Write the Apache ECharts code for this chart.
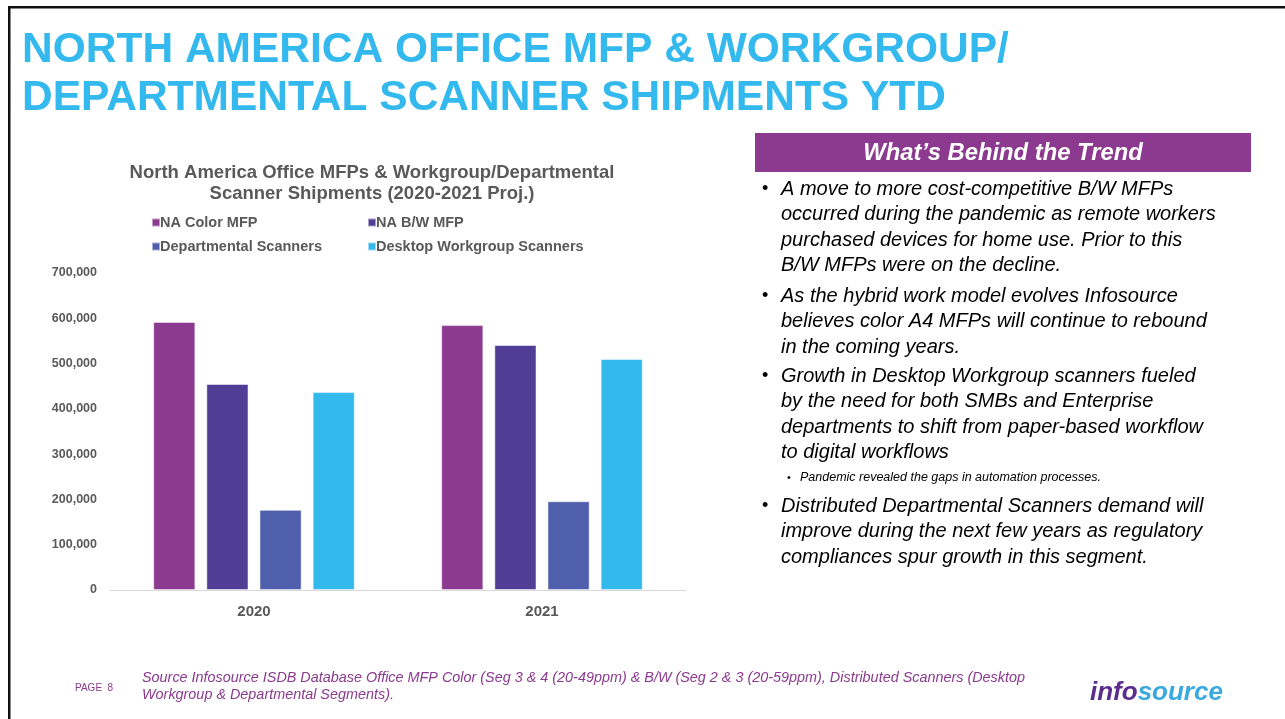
<!DOCTYPE html>
<html>
<head>
<meta charset="utf-8">
<script src="https://cdn.jsdelivr.net/npm/echarts@6/dist/echarts.min.js"></script>
<style>
  html, body { margin: 0; padding: 0; background: #fff; }
  #chart { width: 1285px; height: 719px; }
</style>
</head>
<body>
<div id="chart"></div>
<script>
// data
const years = ['2020', '2021'];
const seriesNames = ['NA Color MFP', 'NA B/W MFP', 'Departmental Scanners', 'Desktop Workgroup Scanners'];
const colorMfp = [592000, 585000];
const bwMfp = [455000, 541000];
const deptScanners = [177000, 196000];
const desktopScanners = [437000, 510000];
const seriesColors = ['#8B3A8F', '#503E96', '#4F5FAB', '#33B9EE'];

const slideTitle = 'NORTH AMERICA OFFICE MFP & WORKGROUP/\nDEPARTMENTAL SCANNER SHIPMENTS YTD';
const chartTitle = 'North America Office MFPs & Workgroup/Departmental\nScanner Shipments (2020-2021 Proj.)';
const panelHeader = 'What\u2019s Behind the Trend';
const bulletLines = [
  ['A move to more cost-competitive B/W MFPs', 'occurred during the pandemic as remote workers', 'purchased devices for home use. Prior to this', 'B/W MFPs were on the decline.'],
  ['As the hybrid work model evolves Infosource', 'believes color A4 MFPs will continue to rebound', 'in the coming years.'],
  ['Growth in Desktop Workgroup scanners fueled', 'by the need for both SMBs and Enterprise', 'departments to shift from paper-based workflow', 'to digital workflows'],
  ['Distributed Departmental Scanners demand will', 'improve during the next few years as regulatory', 'compliances spur growth in this segment.']
];
const subBullet = 'Pandemic revealed the gaps in automation processes.';
const sourceNote = 'Source Infosource ISDB Database Office MFP Color (Seg 3 & 4 (20-49ppm) & B/W (Seg 2 & 3 (20-59ppm), Distributed Scanners (Desktop\nWorkgroup & Departmental Segments).';

const FONT = '"Liberation Sans", Arial, sans-serif';
const GREY = '#595959';

const chart = echarts.init(document.getElementById('chart'));

// slide frame + right-hand text panel
const graphics = [
  { type: 'rect', shape: { x: 9, y: 6, width: 1276, height: 2.5 }, style: { fill: '#111' } },
  { type: 'rect', shape: { x: 8, y: 6, width: 2.5, height: 713 }, style: { fill: '#111' } },
  { type: 'rect', shape: { x: 755, y: 133, width: 496, height: 39 }, style: { fill: '#8B3A8F' } },
  { type: 'text', x: 1003, y: 153, style: { text: panelHeader, fill: '#fff', font: 'italic bold 23.8px ' + FONT, textAlign: 'center', textVerticalAlign: 'middle' } }
];

const lineStarts = [189, 296, 376, 506];
const lineH = 25.5;
bulletLines.forEach((lines, i) => {
  graphics.push({ type: 'text', x: 762, y: lineStarts[i], style: { text: '\u2022', fill: '#000', font: '18px ' + FONT, textVerticalAlign: 'middle' } });
  lines.forEach((ln, j) => {
    graphics.push({ type: 'text', x: 781, y: lineStarts[i] + j * lineH, style: { text: ln, fill: '#000', font: 'italic 20px ' + FONT, textVerticalAlign: 'middle' } });
  });
});
graphics.push({ type: 'text', x: 787, y: 478, style: { text: '\u2022', fill: '#000', font: '11px ' + FONT, textVerticalAlign: 'middle' } });
graphics.push({ type: 'text', x: 800, y: 478, style: { text: subBullet, fill: '#000', font: 'italic 12.5px ' + FONT, textVerticalAlign: 'middle' } });

// footer
graphics.push({ type: 'text', x: 75, y: 688, style: { text: 'PAGE  8', fill: '#8B3A8F', font: '10px ' + FONT, textVerticalAlign: 'middle' } });
graphics.push({ type: 'text', x: 142, y: 669, style: { text: sourceNote, fill: '#8B3A8F', font: 'italic 14.4px ' + FONT, lineHeight: 17 } });
graphics.push({ type: 'text', x: 1090, y: 693, style: {
  text: '{a|info}{b|source}', textVerticalAlign: 'middle',
  rich: {
    a: { fill: '#5A2D8E', font: 'italic bold 26px ' + FONT },
    b: { fill: '#3AA9E0', font: 'italic bold 26px ' + FONT }
  }
} });

const seriesData = [colorMfp, bwMfp, deptScanners, desktopScanners];

chart.setOption({
  animation: false,
  textStyle: { fontFamily: FONT },
  title: [
    { text: slideTitle, left: 22, top: 26, padding: 0, textStyle: { color: '#33B9EE', fontSize: 42.5, fontWeight: 'bold', lineHeight: 48, fontFamily: FONT } },
    { text: chartTitle, left: 372, textAlign: 'center', top: 162, padding: 0, textStyle: { color: GREY, fontSize: 18.5, fontWeight: 'bold', lineHeight: 21.5, fontFamily: FONT } }
  ],
  legend: [
    { data: [seriesNames[0], seriesNames[2]], left: 146, top: 210, orient: 'vertical', itemGap: 9, itemWidth: 8, itemHeight: 8, icon: 'rect',
      textStyle: { color: GREY, fontSize: 14.5, fontWeight: 'bold', padding: [0, 0, 0, -5] } },
    { data: [seriesNames[1], seriesNames[3]], left: 362, top: 210, orient: 'vertical', itemGap: 9, itemWidth: 8, itemHeight: 8, icon: 'rect',
      textStyle: { color: GREY, fontSize: 14.5, fontWeight: 'bold', padding: [0, 0, 0, -5] } }
  ],
  grid: { left: 110, right: 599, top: 273, bottom: 129 },
  xAxis: {
    type: 'category',
    data: years,
    axisLine: { lineStyle: { color: '#D9D9D9', width: 1 } },
    axisTick: { show: false },
    axisLabel: { color: GREY, fontSize: 15, fontWeight: 'bold', margin: 14 }
  },
  yAxis: {
    type: 'value',
    min: 0,
    max: 700000,
    interval: 100000,
    axisLine: { show: false },
    axisTick: { show: false },
    splitLine: { show: false },
    axisLabel: {
      color: GREY, fontSize: 12.5, fontWeight: 'bold', margin: 13,
      formatter: v => v === 0 ? '0' : v.toLocaleString('en-US')
    }
  },
  series: seriesNames.map((name, i) => ({
    name,
    type: 'bar',
    data: seriesData[i],
    barGap: '26%',
    barCategoryGap: '30%',
    itemStyle: { color: seriesColors[i], borderColor: 'rgba(255,255,255,0.5)', borderWidth: 1 }
  })),
  graphic: graphics
});
</script>
</body>
</html>
